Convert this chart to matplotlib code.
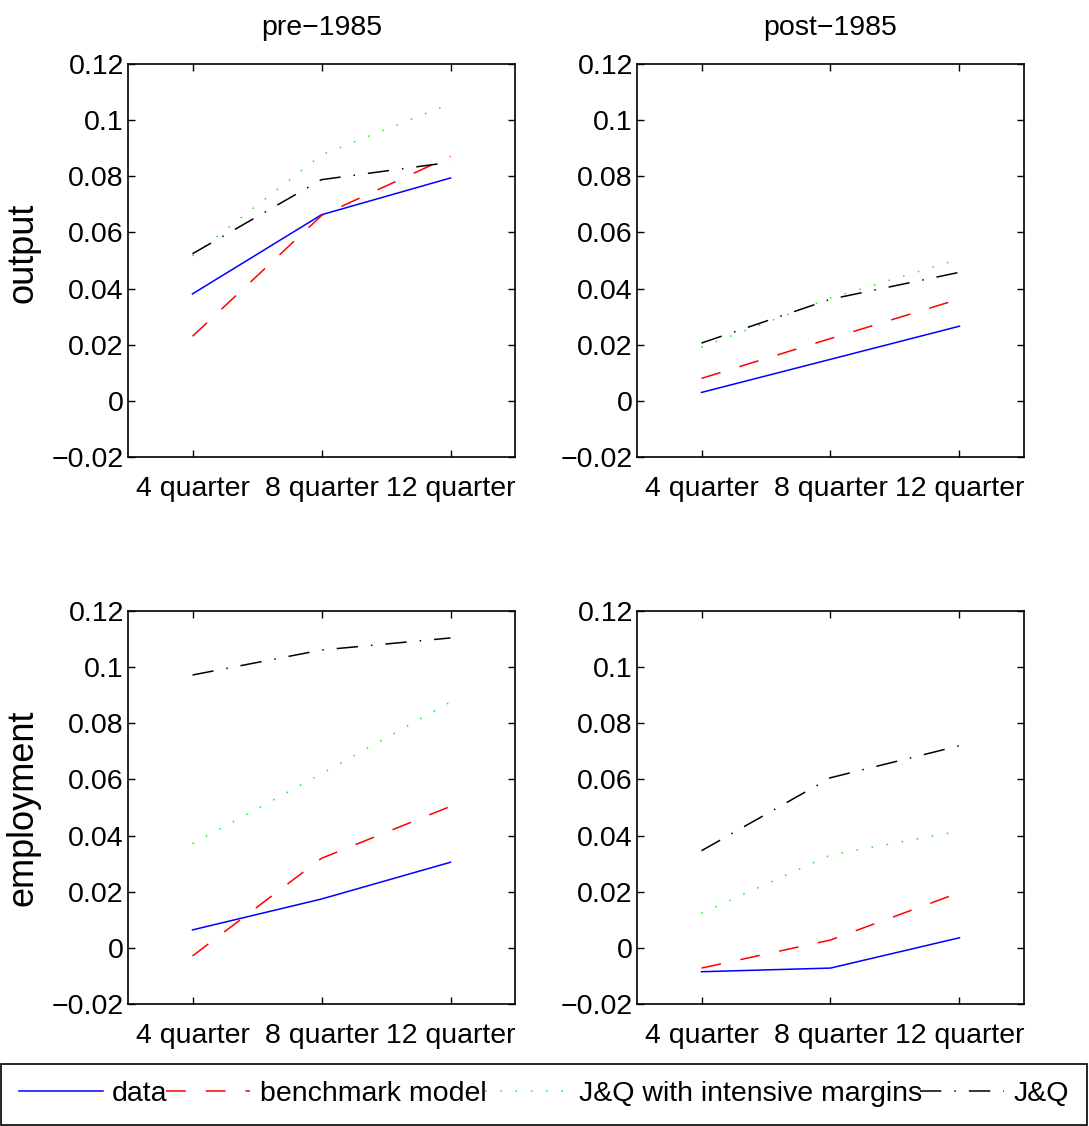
import matplotlib
matplotlib.use("Agg")
import matplotlib.pyplot as plt
from matplotlib.ticker import FuncFormatter

plt.rcParams["font.family"] = ["Liberation Sans", "DejaVu Sans"]

horizons = ["4 quarter", "8 quarter", "12 quarter"]
periods = ["pre\u22121985", "post\u22121985"]
variables = ["output", "employment"]
series_names = ["data", "benchmark model", "J&Q with intensive margins", "J&Q"]

# values: one list per series, 3 horizons each
output_pre = [
    [0.0381, 0.0663, 0.0794],   # data
    [0.0230, 0.0660, 0.0871],   # benchmark model
    [0.0517, 0.0876, 0.1059],   # J&Q with intensive margins
    [0.0524, 0.0788, 0.0850],   # J&Q
]
output_post = [
    [0.0030, 0.0148, 0.0266],
    [0.0080, 0.0222, 0.0363],
    [0.0191, 0.0366, 0.0505],
    [0.0206, 0.0362, 0.0458],
]
employment_pre = [
    [0.0064, 0.0174, 0.0305],
    [-0.0029, 0.0319, 0.0504],
    [0.0371, 0.0620, 0.0876],
    [0.0972, 0.1061, 0.1104],
]
employment_post = [
    [-0.0085, -0.0072, 0.0036],
    [-0.0072, 0.0028, 0.0197],
    [0.0123, 0.0331, 0.0416],
    [0.0346, 0.0606, 0.0720],
]
panels = [[output_pre, output_post], [employment_pre, employment_post]]

styles = [
    dict(color="#0000ff", linestyle="-"),
    dict(color="#ff0000", linestyle=(0, (13, 13))),
    dict(color="#00ff00", linestyle=(0, (1, 9))),
    dict(color="#000000", linestyle=(0, (14, 8.5, 1, 8.5))),
]

fig = plt.figure(figsize=(10.89, 11.26), dpi=100)
lefts = [128 / 1089, 637 / 1089]
bottoms = [(1126 - 457) / 1126, (1126 - 1004) / 1126]
w, h = 387 / 1089, 393 / 1126

fmt = FuncFormatter(lambda v, p: ("%g" % round(v, 4)).replace("-", "\u2212"))
x = [1, 2, 3]
lines = []
for r in range(2):
    for c in range(2):
        ax = fig.add_axes([lefts[c], bottoms[r], w, h])
        for k, vals in enumerate(panels[r][c]):
            ln, = ax.plot(x, vals, linewidth=1.1, **styles[k])
            if r == 0 and c == 0:
                lines.append(ln)
        ax.set_xlim(0.5, 3.5)
        ax.set_ylim(-0.02, 0.12)
        ax.set_xticks(x)
        ax.set_xticklabels(horizons)
        ax.set_yticks([-0.02, 0, 0.02, 0.04, 0.06, 0.08, 0.1, 0.12])
        ax.yaxis.set_major_formatter(fmt)
        ax.tick_params(direction="in", length=5, width=1, top=True, right=True,
                       labelsize=20.5)
        ax.tick_params(axis="y", pad=3)
        ax.tick_params(axis="x", pad=14)
        for s in ax.spines.values():
            s.set_linewidth(1.2)
        if r == 0:
            ax.set_title(periods[c], fontsize=20.5, pad=21)
        if c == 0:
            ax.set_ylabel(variables[r], fontsize=26)
            ax.yaxis.set_label_coords(-0.225, 0.52 if r == 0 else 0.5)

leg = fig.legend(lines, series_names, loc="lower left", ncol=4,
                 bbox_to_anchor=(1 / 1089, 1 / 1126, 1086 / 1089, 0.05),
                 mode="expand", borderaxespad=0, fontsize=20.5,
                 handlelength=2.95, handletextpad=0.33,
                 columnspacing=0.5, borderpad=0.62, fancybox=False,
                 framealpha=1, edgecolor="black")
leg.get_frame().set_linewidth(1.2)

fig.savefig("out.png", dpi=100)
